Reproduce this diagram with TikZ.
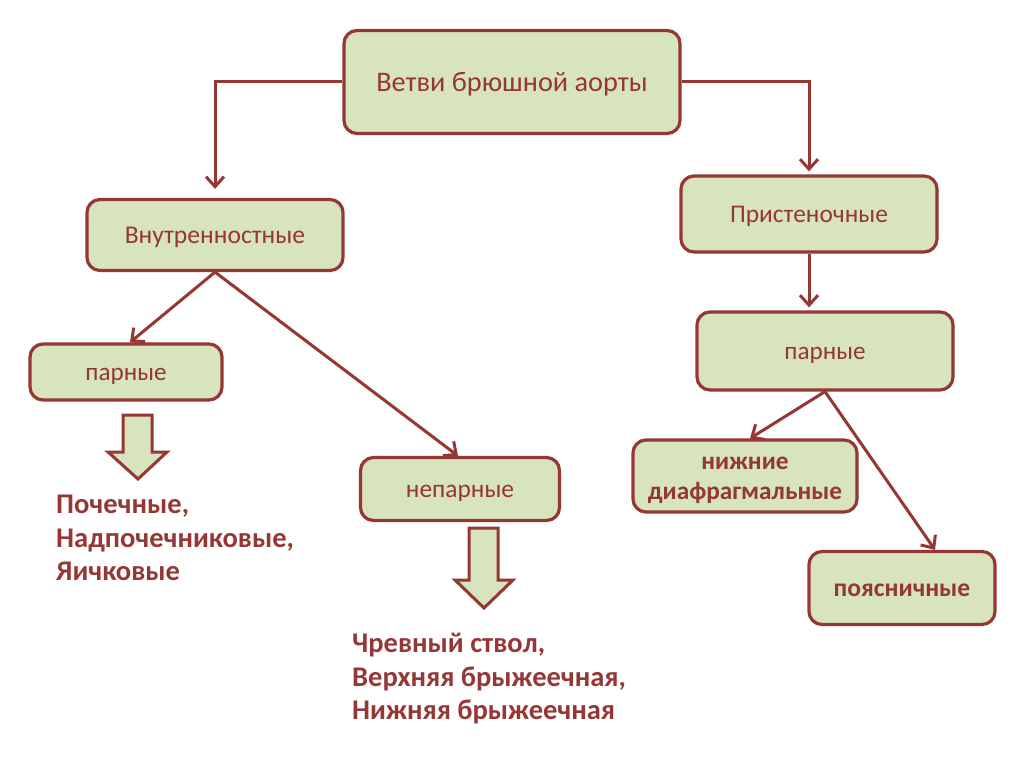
\documentclass[tikz,border=0pt]{standalone}
\usepackage{fontspec}
\setmainfont{Carlito}
\usetikzlibrary{arrows.meta}
\definecolor{aortared}{HTML}{953735}
\definecolor{aortafill}{HTML}{D7E4BD}
\tikzset{
  branch/.style={rectangle,rounded corners=13pt,draw=aortared,fill=aortafill,
    line width=3.2pt,text=aortared,align=center,inner sep=0pt},
  oneline/.style={text height=16.3pt,text depth=0pt},
  link/.style={draw=aortared,line width=3pt,-{Straight Barb[length=10pt,width=18pt,line width=3pt]}},
  bigarrow/.style={draw=aortared,fill=aortafill,line width=3pt,line join=miter},
  vessels/.style={text=aortared,align=left,inner sep=0pt,anchor=north west,
    font=\fontsize{28.5}{33.5}\selectfont\bfseries}
}
\begin{document}
\begin{tikzpicture}[x=1pt,y=-1pt]
\useasboundingbox (0,0) rectangle (1024,767);
\fill[white] (0,0) rectangle (1024,767);
  \node[branch,oneline,text height=18.2pt,minimum width=336,minimum height=103,font=\fontsize{28.3}{34}\selectfont] (aorta) at (512,82) {Ветви брюшной аорты};
  \node[branch,oneline,minimum width=256,minimum height=71,font=\fontsize{25.6}{30}\selectfont] (visc) at (215,235) {Внутренностные};
  \node[branch,oneline,minimum width=256,minimum height=76,font=\fontsize{25.4}{30}\selectfont] (pariet) at (809,214) {Пристеночные};
  \node[branch,oneline,minimum width=192,minimum height=56,font=\fontsize{25.2}{30}\selectfont] (vpair) at (126,372) {парные};
  \node[branch,oneline,minimum width=199,minimum height=63,font=\fontsize{25.4}{30}\selectfont] (vunpair) at (460,489) {непарные};
  \node[branch,oneline,minimum width=256,minimum height=78,font=\fontsize{25.2}{30}\selectfont] (ppair) at (825,351) {парные};
  \node[branch,text height=46.3pt,text depth=0pt,minimum width=224,minimum height=72,font=\fontsize{25.3}{30}\selectfont\bfseries] (phren) at (745,476) {нижние\\диафрагмальные};
  \node[branch,oneline,minimum width=186,minimum height=73,font=\fontsize{25.6}{30}\selectfont\bfseries] (lumb) at (902,588) {поясничные};

  \node[vessels] (vpairlist) at (56,495) {Почечные,\\Надпочечниковые,\\Яичковые};
  \node[vessels] (vunpairlist) at (352,633) {Чревный ствол,\\Верхняя брыжеечная,\\Нижняя брыжеечная};

  \draw[link,shorten >=9pt] (aorta.west) -| (visc.north);
  \draw[link,shorten >=3pt] (aorta.east) -| (pariet.north);
  \draw[link,shorten >=3pt] (pariet.south) -- (pariet.south |- ppair.north);
  \draw[link] (visc.south) -- ([xshift=4pt]vpair.north);
  \draw[link] (visc.south) -- ([xshift=-2pt]vunpair.north);
  \draw[link] (ppair.south) -- ([xshift=5pt]phren.north);
  \draw[link] (ppair.south) -- ([xshift=33pt]lumb.north);

  % block arrows
  \draw[bigarrow] (123,415) -- (152,415) -- (152,452) -- (167,452) -- (138,479)
    -- (108,452) -- (123,452) -- cycle;
  \draw[bigarrow] (469,528) -- (498,528) -- (498,580) -- (513,580) -- (484,608)
    -- (455,580) -- (469,580) -- cycle;
\end{tikzpicture}
\end{document}
